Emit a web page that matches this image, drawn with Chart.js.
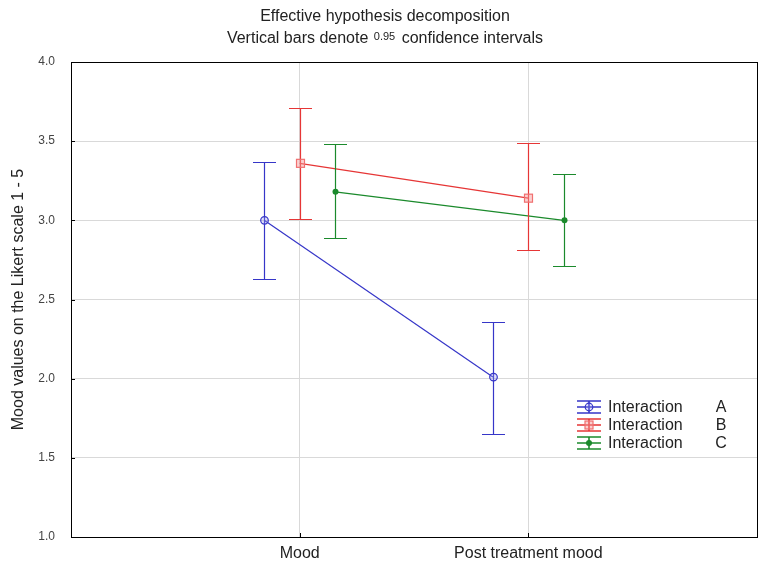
<!DOCTYPE html>
<html>
<head>
<meta charset="utf-8">
<script src="https://cdn.jsdelivr.net/npm/chart.js@4.4.0/dist/chart.umd.min.js"></script>
<style>
  html, body { margin: 0; padding: 0; background: #fff; }
  #wrap { width: 775px; height: 569px; position: relative; }
</style>
</head>
<body>
<div id="wrap"><canvas id="chart"></canvas></div>
<script>
// effective hypothesis decomposition – mood by interaction group

const categories = ['Mood', 'Post treatment mood'];
const seriesNames = ['A', 'B', 'C'];

const meanA = [3.00, 2.01];
const meanB = [3.36, 3.14];
const meanC = [3.18, 3.00];

const lowA = [2.63, 1.65];
const lowB = [3.01, 2.81];
const lowC = [2.89, 2.71];

const highA = [3.37, 2.36];
const highB = [3.71, 3.49];
const highC = [3.48, 3.29];

const yTicks = [1.0, 1.5, 2.0, 2.5, 3.0, 3.5, 4.0];

// style
const colors = ['#3636c8', '#e63636', '#1b8a2c'];
const dodge = [-0.155, 0, 0.155];
const FONT = 'Liberation Sans, Arial, sans-serif';
const LW = 1.2;

const means = [meanA, meanB, meanC];
const lows = [lowA, lowB, lowC];
const highs = [highA, highB, highC];

function drawMarker(ctx, k, x, y) {
  ctx.save();
  ctx.strokeStyle = colors[k];
  ctx.lineWidth = LW;
  if (k === 0) {
    ctx.fillStyle = 'rgba(150,150,240,0.3)';
    ctx.beginPath(); ctx.arc(x, y, 3.8, 0, Math.PI * 2); ctx.fill(); ctx.stroke();
  } else if (k === 1) {
    ctx.fillStyle = 'rgba(245,150,150,0.45)';
    ctx.strokeStyle = '#f07070';
    ctx.fillRect(x - 4, y - 4, 8, 8);
    ctx.strokeRect(x - 4, y - 4, 8, 8);
  } else {
    ctx.fillStyle = colors[k];
    ctx.beginPath(); ctx.arc(x, y, 3, 0, Math.PI * 2); ctx.fill();
  }
  ctx.restore();
}

const errorBars = {
  id: 'errorBars',
  afterDatasetsDraw(chart) {
    const { ctx, scales: { x, y } } = chart;
    ctx.save();
    ctx.lineWidth = LW;
    means.forEach((m, k) => {
      ctx.strokeStyle = colors[k];
      m.forEach((v, i) => {
        const px = Math.round(x.getPixelForValue(i + 1 + dodge[k])) + 0.5;
        const top = Math.round(y.getPixelForValue(highs[k][i])) + 0.5;
        const bot = Math.round(y.getPixelForValue(lows[k][i])) + 0.5;
        ctx.beginPath();
        ctx.moveTo(px, top); ctx.lineTo(px, bot);
        ctx.moveTo(px - 11.5, top); ctx.lineTo(px + 11.5, top);
        ctx.moveTo(px - 11.5, bot); ctx.lineTo(px + 11.5, bot);
        ctx.stroke();
        drawMarker(ctx, k, px, y.getPixelForValue(v));
      });
    });
    ctx.restore();
  }
};

const frameAndText = {
  id: 'frameAndText',
  afterDraw(chart) {
    const { ctx, chartArea: a, scales: { x, y } } = chart;
    ctx.save();
    // frame
    ctx.strokeStyle = '#000';
    ctx.lineWidth = 1;
    ctx.strokeRect(Math.round(a.left) + 0.5, Math.round(a.top) + 0.5,
      Math.round(a.right - a.left), Math.round(a.bottom - a.top));
    // inner ticks
    ctx.beginPath();
    yTicks.forEach(t => {
      const py = Math.round(y.getPixelForValue(t)) + 0.5;
      ctx.moveTo(a.left, py); ctx.lineTo(a.left + 4, py);
    });
    categories.forEach((c, i) => {
      const px = Math.round(x.getPixelForValue(i + 1)) + 0.5;
      ctx.moveTo(px, a.bottom); ctx.lineTo(px, a.bottom - 4);
    });
    ctx.stroke();

    // title
    const cx = 385;
    ctx.fillStyle = '#222';
    ctx.textBaseline = 'middle';
    ctx.textAlign = 'center';
    ctx.font = '16px ' + FONT;
    ctx.fillText('Effective hypothesis decomposition', cx, 17);
    const p1 = 'Vertical bars denote ', p2 = '0.95', p3 = ' confidence intervals';
    ctx.font = '16px ' + FONT;
    const w1 = ctx.measureText(p1).width, w3 = ctx.measureText(p3).width;
    ctx.font = '11px ' + FONT;
    const w2 = ctx.measureText(p2).width + 3;
    const sx = cx - (w1 + w2 + w3) / 2;
    ctx.textAlign = 'left';
    ctx.font = '16px ' + FONT;
    ctx.fillText(p1, sx, 39);
    ctx.font = '11px ' + FONT;
    ctx.fillText(p2, sx + w1 + 1, 37);
    ctx.font = '16px ' + FONT;
    ctx.fillText(p3, sx + w1 + w2, 39);

    // legend
    const lx = 589, rows = [407, 425, 443];
    ctx.lineWidth = 1.6;
    seriesNames.forEach((s, k) => {
      const ly = rows[k];
      ctx.strokeStyle = colors[k];
      ctx.beginPath();
      ctx.moveTo(lx - 12, ly - 6); ctx.lineTo(lx + 12, ly - 6);
      ctx.moveTo(lx - 12, ly); ctx.lineTo(lx + 12, ly);
      ctx.moveTo(lx - 12, ly + 6); ctx.lineTo(lx + 12, ly + 6);
      ctx.moveTo(lx, ly - 6); ctx.lineTo(lx, ly + 6);
      ctx.stroke();
      drawMarker(ctx, k, lx, ly);
      ctx.fillStyle = '#222';
      ctx.font = '16px ' + FONT;
      ctx.textAlign = 'left';
      ctx.fillText('Interaction', 608, ly + 1);
      ctx.textAlign = 'center';
      ctx.fillText(s, 721, ly + 1);
    });
    ctx.restore();
  }
};

const datasets = means.map((m, k) => ({
  label: 'Interaction ' + seriesNames[k],
  data: m.map((v, i) => ({ x: i + 1 + dodge[k], y: v })),
  showLine: true,
  borderColor: colors[k],
  borderWidth: LW,
  pointRadius: 0,
  fill: false
}));

new Chart(document.getElementById('chart'), {
  type: 'scatter',
  data: { datasets },
  plugins: [errorBars, frameAndText],
  options: {
    responsive: true,
    maintainAspectRatio: false,
    animation: false,
    layout: { padding: { top: 62, right: 18, left: 0, bottom: 0 } },
    plugins: {
      legend: { display: false },
      tooltip: { enabled: false }
    },
    scales: {
      x: {
        type: 'linear',
        min: 0,
        max: 3,
        afterBuildTicks: s => { s.ticks = categories.map((c, i) => ({ value: i + 1 })); },
        afterFit: s => { s.height = 32; },
        grid: { color: '#d9d9d9', drawTicks: false },
        border: { display: false },
        ticks: {
          padding: 7,
          color: '#222',
          font: { family: FONT, size: 16 },
          callback: v => categories[v - 1]
        }
      },
      y: {
        min: 1,
        max: 4,
        afterBuildTicks: s => { s.ticks = yTicks.map(v => ({ value: v })); },
        afterFit: s => { s.width = 71; },
        grid: { color: '#d9d9d9', drawTicks: false },
        border: { display: false },
        ticks: {
          padding: 16,
          color: '#444',
          font: { family: FONT, size: 12 },
          callback: v => v.toFixed(1)
        },
        title: {
          display: true,
          text: 'Mood values on the Likert scale 1 - 5',
          color: '#222',
          font: { family: FONT, size: 16 },
          padding: { top: 9, bottom: 0 }
        }
      }
    }
  }
});
</script>
</body>
</html>
